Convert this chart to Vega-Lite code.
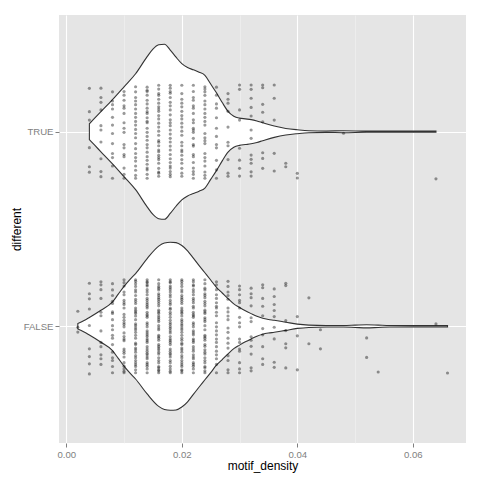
{
"$schema":"https://vega.github.io/schema/vega-lite/v6.json",
"autosize":{"type":"none"},
"padding":{"left":59,"top":15,"right":14,"bottom":37},
"width":407,"height":428,
"background":"#FFFFFF",
"config":{"view":{"fill":"#E5E5E5","stroke":null},"font":"Liberation Sans",
 "axis":{"domain":false,"labelColor":"#7F7F7F","labelFontSize":9.6,"tickColor":"#7F7F7F","tickSize":4,"tickWidth":1,"gridColor":"#FFFFFF","gridWidth":1.1,"titleFontWeight":"normal","titleFontSize":12,"titleColor":"#000000","labelPadding":2,"labelFont":"Liberation Sans","titleFont":"Liberation Sans"}},
"datasets":{
"vio":[
{"g":"T","x":0.004,"y":1.959,"y2":2.041},{"g":"T","x":0.005,"y":1.928,"y2":2.072},{"g":"T","x":0.006,"y":1.897,"y2":2.103},{"g":"T","x":0.008,"y":1.835,"y2":2.165},{"g":"T","x":0.010,"y":1.769,"y2":2.231},{"g":"T","x":0.012,"y":1.702,"y2":2.298},{"g":"T","x":0.014,"y":1.614,"y2":2.386},{"g":"T","x":0.015,"y":1.575,"y2":2.425},{"g":"T","x":0.016,"y":1.553,"y2":2.447},{"g":"T","x":0.017,"y":1.55,"y2":2.45},{"g":"T","x":0.018,"y":1.58,"y2":2.42},{"g":"T","x":0.019,"y":1.617,"y2":2.383},{"g":"T","x":0.020,"y":1.65,"y2":2.35},{"g":"T","x":0.021,"y":1.67,"y2":2.33},{"g":"T","x":0.022,"y":1.682,"y2":2.318},{"g":"T","x":0.023,"y":1.694,"y2":2.306},{"g":"T","x":0.024,"y":1.71,"y2":2.29},{"g":"T","x":0.025,"y":1.755,"y2":2.245},{"g":"T","x":0.026,"y":1.80,"y2":2.20},{"g":"T","x":0.027,"y":1.85,"y2":2.15},{"g":"T","x":0.028,"y":1.895,"y2":2.105},{"g":"T","x":0.029,"y":1.92,"y2":2.08},{"g":"T","x":0.030,"y":1.93,"y2":2.07},{"g":"T","x":0.031,"y":1.934,"y2":2.066},{"g":"T","x":0.032,"y":1.938,"y2":2.062},{"g":"T","x":0.033,"y":1.945,"y2":2.055},{"g":"T","x":0.034,"y":1.954,"y2":2.046},{"g":"T","x":0.036,"y":1.971,"y2":2.029},{"g":"T","x":0.038,"y":1.983,"y2":2.017},{"g":"T","x":0.040,"y":1.99,"y2":2.01},{"g":"T","x":0.042,"y":1.995,"y2":2.005},{"g":"T","x":0.045,"y":1.9965,"y2":2.0035},{"g":"T","x":0.048,"y":1.995,"y2":2.005},{"g":"T","x":0.052,"y":1.997,"y2":2.003},{"g":"T","x":0.058,"y":1.997,"y2":2.003},{"g":"T","x":0.064,"y":1.997,"y2":2.003},
{"g":"F","x":0.002,"y":0.986,"y2":1.014},{"g":"F","x":0.003,"y":0.972,"y2":1.028},{"g":"F","x":0.004,"y":0.955,"y2":1.045},{"g":"F","x":0.006,"y":0.918,"y2":1.082},{"g":"F","x":0.008,"y":0.875,"y2":1.125},{"g":"F","x":0.009,"y":0.835,"y2":1.165},{"g":"F","x":0.010,"y":0.795,"y2":1.205},{"g":"F","x":0.011,"y":0.76,"y2":1.24},{"g":"F","x":0.012,"y":0.729,"y2":1.271},{"g":"F","x":0.014,"y":0.652,"y2":1.348},{"g":"F","x":0.016,"y":0.588,"y2":1.412},{"g":"F","x":0.017,"y":0.572,"y2":1.428},{"g":"F","x":0.018,"y":0.568,"y2":1.432},{"g":"F","x":0.019,"y":0.57,"y2":1.43},{"g":"F","x":0.020,"y":0.585,"y2":1.415},{"g":"F","x":0.021,"y":0.612,"y2":1.388},{"g":"F","x":0.022,"y":0.65,"y2":1.35},{"g":"F","x":0.023,"y":0.688,"y2":1.312},{"g":"F","x":0.024,"y":0.725,"y2":1.275},{"g":"F","x":0.025,"y":0.762,"y2":1.238},{"g":"F","x":0.026,"y":0.80,"y2":1.20},{"g":"F","x":0.027,"y":0.829,"y2":1.171},{"g":"F","x":0.028,"y":0.858,"y2":1.142},{"g":"F","x":0.029,"y":0.885,"y2":1.115},{"g":"F","x":0.030,"y":0.903,"y2":1.097},{"g":"F","x":0.031,"y":0.92,"y2":1.08},{"g":"F","x":0.032,"y":0.935,"y2":1.065},{"g":"F","x":0.033,"y":0.949,"y2":1.051},{"g":"F","x":0.034,"y":0.959,"y2":1.041},{"g":"F","x":0.035,"y":0.965,"y2":1.035},{"g":"F","x":0.036,"y":0.969,"y2":1.031},{"g":"F","x":0.038,"y":0.979,"y2":1.021},{"g":"F","x":0.040,"y":0.989,"y2":1.011},{"g":"F","x":0.042,"y":0.994,"y2":1.006},{"g":"F","x":0.045,"y":0.996,"y2":1.004},{"g":"F","x":0.048,"y":0.996,"y2":1.004},{"g":"F","x":0.050,"y":0.994,"y2":1.006},{"g":"F","x":0.052,"y":0.992,"y2":1.008},{"g":"F","x":0.054,"y":0.994,"y2":1.006},{"g":"F","x":0.056,"y":0.996,"y2":1.004},{"g":"F","x":0.060,"y":0.9965,"y2":1.0035},{"g":"F","x":0.066,"y":0.9965,"y2":1.0035}
],
"pts":[
{"x":0.004,"y":2.223},{"x":0.004,"y":2.103},{"x":0.004,"y":2.060},{"x":0.004,"y":1.918},{"x":0.004,"y":1.820},{"x":0.004,"y":1.792},
{"x":0.006,"y":2.151},{"x":0.006,"y":1.769},{"x":0.006,"y":2.031},{"x":0.006,"y":1.947},{"x":0.006,"y":2.224},{"x":0.006,"y":1.861},{"x":0.006,"y":2.112},{"x":0.006,"y":1.795},{"x":0.006,"y":2.009},{"x":0.006,"y":2.176},
{"x":0.008,"y":2.139},{"x":0.008,"y":1.888},{"x":0.008,"y":2.205},{"x":0.008,"y":1.991},{"x":0.008,"y":1.824},{"x":0.008,"y":2.074},{"x":0.008,"y":2.158},{"x":0.008,"y":1.939},{"x":0.008,"y":2.034},{"x":0.008,"y":1.761},{"x":0.008,"y":2.117},{"x":0.008,"y":1.867},
{"x":0.010,"y":1.883},{"x":0.010,"y":2.133},{"x":0.010,"y":1.781},{"x":0.010,"y":2.046},{"x":0.010,"y":1.813},{"x":0.010,"y":2.207},{"x":0.010,"y":1.997},{"x":0.010,"y":2.094},{"x":0.010,"y":1.872},{"x":0.010,"y":2.162},{"x":0.010,"y":1.934},{"x":0.010,"y":2.018},{"x":0.010,"y":1.761},{"x":0.010,"y":2.121},{"x":0.010,"y":1.917},{"x":0.010,"y":2.188},
{"x":0.012,"y":2.012},{"x":0.012,"y":1.802},{"x":0.012,"y":2.176},{"x":0.012,"y":1.913},{"x":0.012,"y":2.094},{"x":0.012,"y":1.849},{"x":0.012,"y":2.231},{"x":0.012,"y":1.969},{"x":0.012,"y":2.053},{"x":0.012,"y":1.776},{"x":0.012,"y":2.139},{"x":0.012,"y":1.888},{"x":0.012,"y":2.205},{"x":0.012,"y":1.991},{"x":0.012,"y":1.824},{"x":0.012,"y":2.074},{"x":0.012,"y":2.158},{"x":0.012,"y":1.939},{"x":0.012,"y":2.034},{"x":0.012,"y":1.761},{"x":0.012,"y":2.117},{"x":0.012,"y":1.867},
{"x":0.014,"y":1.781},{"x":0.014,"y":2.046},{"x":0.014,"y":1.813},{"x":0.014,"y":2.207},{"x":0.014,"y":1.997},{"x":0.014,"y":2.094},{"x":0.014,"y":1.872},{"x":0.014,"y":2.162},{"x":0.014,"y":1.934},{"x":0.014,"y":2.018},{"x":0.014,"y":1.761},{"x":0.014,"y":2.121},{"x":0.014,"y":1.917},{"x":0.014,"y":2.188},{"x":0.014,"y":1.853},{"x":0.014,"y":2.072},{"x":0.014,"y":1.976},{"x":0.014,"y":2.229},{"x":0.014,"y":1.804},{"x":0.014,"y":2.143},{"x":0.014,"y":1.895},{"x":0.014,"y":2.054},{"x":0.014,"y":1.833},{"x":0.014,"y":2.213},{"x":0.014,"y":1.956},{"x":0.014,"y":2.103},
{"x":0.016,"y":2.117},{"x":0.016,"y":1.867},{"x":0.016,"y":2.219},{"x":0.016,"y":1.954},{"x":0.016,"y":2.187},{"x":0.016,"y":1.793},{"x":0.016,"y":2.003},{"x":0.016,"y":1.906},{"x":0.016,"y":2.128},{"x":0.016,"y":1.838},{"x":0.016,"y":2.066},{"x":0.016,"y":1.982},{"x":0.016,"y":2.239},{"x":0.016,"y":1.879},{"x":0.016,"y":2.083},{"x":0.016,"y":1.812},{"x":0.016,"y":2.147},{"x":0.016,"y":1.928},{"x":0.016,"y":2.024},{"x":0.016,"y":1.771},{"x":0.016,"y":2.196},{"x":0.016,"y":1.857},{"x":0.016,"y":2.105},{"x":0.016,"y":1.946},{"x":0.016,"y":2.167},{"x":0.016,"y":1.787},{"x":0.016,"y":2.044},{"x":0.016,"y":1.897},
{"x":0.018,"y":1.988},{"x":0.018,"y":2.198},{"x":0.018,"y":1.824},{"x":0.018,"y":2.087},{"x":0.018,"y":1.906},{"x":0.018,"y":2.151},{"x":0.018,"y":1.769},{"x":0.018,"y":2.031},{"x":0.018,"y":1.947},{"x":0.018,"y":2.224},{"x":0.018,"y":1.861},{"x":0.018,"y":2.112},{"x":0.018,"y":1.795},{"x":0.018,"y":2.009},{"x":0.018,"y":2.176},{"x":0.018,"y":1.926},{"x":0.018,"y":1.842},{"x":0.018,"y":2.061},{"x":0.018,"y":1.966},{"x":0.018,"y":2.239},{"x":0.018,"y":1.883},{"x":0.018,"y":2.133},{"x":0.018,"y":1.781},{"x":0.018,"y":2.046},{"x":0.018,"y":1.813},{"x":0.018,"y":2.207},
{"x":0.020,"y":2.003},{"x":0.020,"y":1.906},{"x":0.020,"y":2.128},{"x":0.020,"y":1.838},{"x":0.020,"y":2.066},{"x":0.020,"y":1.982},{"x":0.020,"y":2.239},{"x":0.020,"y":1.879},{"x":0.020,"y":2.083},{"x":0.020,"y":1.812},{"x":0.020,"y":2.147},{"x":0.020,"y":1.928},{"x":0.020,"y":2.024},{"x":0.020,"y":1.771},{"x":0.020,"y":2.196},{"x":0.020,"y":1.857},{"x":0.020,"y":2.105},{"x":0.020,"y":1.946},{"x":0.020,"y":2.167},{"x":0.020,"y":1.787},{"x":0.020,"y":2.044},{"x":0.020,"y":1.897},
{"x":0.022,"y":1.795},{"x":0.022,"y":2.009},{"x":0.022,"y":2.176},{"x":0.022,"y":1.926},{"x":0.022,"y":1.842},{"x":0.022,"y":2.061},{"x":0.022,"y":1.966},{"x":0.022,"y":2.239},{"x":0.022,"y":1.883},{"x":0.022,"y":2.133},{"x":0.022,"y":1.781},{"x":0.022,"y":2.046},{"x":0.022,"y":1.813},{"x":0.022,"y":2.207},{"x":0.022,"y":1.997},{"x":0.022,"y":2.094},{"x":0.022,"y":1.872},{"x":0.022,"y":2.162},{"x":0.022,"y":1.934},{"x":0.022,"y":2.018},{"x":0.022,"y":1.761},{"x":0.022,"y":2.121},
{"x":0.024,"y":2.094},{"x":0.024,"y":1.849},{"x":0.024,"y":2.231},{"x":0.024,"y":1.969},{"x":0.024,"y":2.053},{"x":0.024,"y":1.776},{"x":0.024,"y":2.139},{"x":0.024,"y":1.888},{"x":0.024,"y":2.205},{"x":0.024,"y":1.991},{"x":0.024,"y":1.824},{"x":0.024,"y":2.074},{"x":0.024,"y":2.158},{"x":0.024,"y":1.939},{"x":0.024,"y":2.034},{"x":0.024,"y":1.761},{"x":0.024,"y":2.117},{"x":0.024,"y":1.867},{"x":0.024,"y":2.219},{"x":0.024,"y":1.954},{"x":0.024,"y":2.187},{"x":0.024,"y":1.793},
{"x":0.026,"y":1.934},{"x":0.026,"y":2.018},{"x":0.026,"y":1.761},{"x":0.026,"y":2.121},{"x":0.026,"y":1.917},{"x":0.026,"y":2.188},{"x":0.026,"y":1.853},{"x":0.026,"y":2.072},{"x":0.026,"y":1.976},{"x":0.026,"y":2.229},{"x":0.026,"y":1.804},{"x":0.026,"y":2.143},
{"x":0.028,"y":2.147},{"x":0.028,"y":1.928},{"x":0.028,"y":2.024},{"x":0.028,"y":1.771},{"x":0.028,"y":2.196},{"x":0.028,"y":1.857},{"x":0.028,"y":2.105},{"x":0.028,"y":1.946},{"x":0.028,"y":2.167},{"x":0.028,"y":1.787},
{"x":0.030,"y":2.240},{"x":0.030,"y":2.218},{"x":0.030,"y":2.112},{"x":0.030,"y":2.060},{"x":0.030,"y":1.915},{"x":0.030,"y":1.854},{"x":0.030,"y":1.812},{"x":0.030,"y":1.772},
{"x":0.032,"y":2.240},{"x":0.032,"y":2.218},{"x":0.032,"y":2.172},{"x":0.032,"y":2.125},{"x":0.032,"y":2.081},{"x":0.032,"y":2.009},{"x":0.032,"y":1.966},{"x":0.032,"y":1.880},{"x":0.032,"y":1.858},{"x":0.032,"y":1.838},{"x":0.032,"y":1.794},{"x":0.032,"y":1.772},
{"x":0.034,"y":2.240},{"x":0.034,"y":2.226},{"x":0.034,"y":2.141},{"x":0.034,"y":2.100},{"x":0.034,"y":2.051},{"x":0.034,"y":1.892},{"x":0.034,"y":1.863},{"x":0.034,"y":1.812},
{"x":0.036,"y":2.240},{"x":0.036,"y":2.172},{"x":0.036,"y":2.060},{"x":0.036,"y":1.889},{"x":0.036,"y":1.798},
{"x":0.038,"y":1.838},{"x":0.038,"y":1.820},{"x":0.040,"y":1.786},{"x":0.040,"y":1.762},{"x":0.048,"y":1.992},{"x":0.064,"y":1.758},
{"x":0.002,"y":1.077},{"x":0.002,"y":0.995},{"x":0.002,"y":0.970},
{"x":0.004,"y":1.221},{"x":0.004,"y":1.167},{"x":0.004,"y":1.141},{"x":0.004,"y":1.089},{"x":0.004,"y":1.004},{"x":0.004,"y":0.884},{"x":0.004,"y":0.844},{"x":0.004,"y":0.807},{"x":0.004,"y":0.755},
{"x":0.006,"y":0.917},{"x":0.006,"y":1.188},{"x":0.006,"y":0.853},{"x":0.006,"y":1.072},{"x":0.006,"y":0.976},{"x":0.006,"y":1.229},{"x":0.006,"y":0.804},{"x":0.006,"y":1.143},{"x":0.006,"y":0.895},{"x":0.006,"y":1.054},{"x":0.006,"y":0.833},{"x":0.006,"y":1.213},
{"x":0.008,"y":0.824},{"x":0.008,"y":1.074},{"x":0.008,"y":1.158},{"x":0.008,"y":0.939},{"x":0.008,"y":1.034},{"x":0.008,"y":0.761},{"x":0.008,"y":1.117},{"x":0.008,"y":0.867},{"x":0.008,"y":1.219},{"x":0.008,"y":0.954},{"x":0.008,"y":1.187},{"x":0.008,"y":0.793},{"x":0.008,"y":1.003},{"x":0.008,"y":0.906},{"x":0.008,"y":1.128},{"x":0.008,"y":0.838},{"x":0.008,"y":1.066},{"x":0.008,"y":0.982},
{"x":0.010,"y":0.769},{"x":0.010,"y":1.031},{"x":0.010,"y":0.947},{"x":0.010,"y":1.224},{"x":0.010,"y":0.861},{"x":0.010,"y":1.112},{"x":0.010,"y":0.795},{"x":0.010,"y":1.009},{"x":0.010,"y":1.176},{"x":0.010,"y":0.926},{"x":0.010,"y":0.842},{"x":0.010,"y":1.061},{"x":0.010,"y":0.966},{"x":0.010,"y":1.239},{"x":0.010,"y":0.883},{"x":0.010,"y":1.133},{"x":0.010,"y":0.781},{"x":0.010,"y":1.046},{"x":0.010,"y":0.813},{"x":0.010,"y":1.207},{"x":0.010,"y":0.997},{"x":0.010,"y":1.094},{"x":0.010,"y":0.872},{"x":0.010,"y":1.162},{"x":0.010,"y":0.934},{"x":0.010,"y":1.018},{"x":0.010,"y":0.761},{"x":0.010,"y":1.121},
{"x":0.012,"y":1.012},{"x":0.012,"y":0.802},{"x":0.012,"y":1.176},{"x":0.012,"y":0.913},{"x":0.012,"y":1.094},{"x":0.012,"y":0.849},{"x":0.012,"y":1.231},{"x":0.012,"y":0.969},{"x":0.012,"y":1.053},{"x":0.012,"y":0.776},{"x":0.012,"y":1.139},{"x":0.012,"y":0.888},{"x":0.012,"y":1.205},{"x":0.012,"y":0.991},{"x":0.012,"y":0.824},{"x":0.012,"y":1.074},{"x":0.012,"y":1.158},{"x":0.012,"y":0.939},{"x":0.012,"y":1.034},{"x":0.012,"y":0.761},{"x":0.012,"y":1.117},{"x":0.012,"y":0.867},{"x":0.012,"y":1.219},{"x":0.012,"y":0.954},{"x":0.012,"y":1.187},{"x":0.012,"y":0.793},{"x":0.012,"y":1.003},{"x":0.012,"y":0.906},{"x":0.012,"y":1.128},{"x":0.012,"y":0.838},{"x":0.012,"y":1.066},{"x":0.012,"y":0.982},{"x":0.012,"y":1.239},{"x":0.012,"y":0.879},{"x":0.012,"y":1.083},{"x":0.012,"y":0.812},
{"x":0.014,"y":0.947},{"x":0.014,"y":1.224},{"x":0.014,"y":0.861},{"x":0.014,"y":1.112},{"x":0.014,"y":0.795},{"x":0.014,"y":1.009},{"x":0.014,"y":1.176},{"x":0.014,"y":0.926},{"x":0.014,"y":0.842},{"x":0.014,"y":1.061},{"x":0.014,"y":0.966},{"x":0.014,"y":1.239},{"x":0.014,"y":0.883},{"x":0.014,"y":1.133},{"x":0.014,"y":0.781},{"x":0.014,"y":1.046},{"x":0.014,"y":0.813},{"x":0.014,"y":1.207},{"x":0.014,"y":0.997},{"x":0.014,"y":1.094},{"x":0.014,"y":0.872},{"x":0.014,"y":1.162},{"x":0.014,"y":0.934},{"x":0.014,"y":1.018},{"x":0.014,"y":0.761},{"x":0.014,"y":1.121},{"x":0.014,"y":0.917},{"x":0.014,"y":1.188},{"x":0.014,"y":0.853},{"x":0.014,"y":1.072},{"x":0.014,"y":0.976},{"x":0.014,"y":1.229},{"x":0.014,"y":0.804},{"x":0.014,"y":1.143},{"x":0.014,"y":0.895},{"x":0.014,"y":1.054},{"x":0.014,"y":0.833},{"x":0.014,"y":1.213},{"x":0.014,"y":0.956},{"x":0.014,"y":1.103},
{"x":0.016,"y":1.053},{"x":0.016,"y":0.776},{"x":0.016,"y":1.139},{"x":0.016,"y":0.888},{"x":0.016,"y":1.205},{"x":0.016,"y":0.991},{"x":0.016,"y":0.824},{"x":0.016,"y":1.074},{"x":0.016,"y":1.158},{"x":0.016,"y":0.939},{"x":0.016,"y":1.034},{"x":0.016,"y":0.761},{"x":0.016,"y":1.117},{"x":0.016,"y":0.867},{"x":0.016,"y":1.219},{"x":0.016,"y":0.954},{"x":0.016,"y":1.187},{"x":0.016,"y":0.793},{"x":0.016,"y":1.003},{"x":0.016,"y":0.906},{"x":0.016,"y":1.128},{"x":0.016,"y":0.838},{"x":0.016,"y":1.066},{"x":0.016,"y":0.982},{"x":0.016,"y":1.239},{"x":0.016,"y":0.879},{"x":0.016,"y":1.083},{"x":0.016,"y":0.812},{"x":0.016,"y":1.147},{"x":0.016,"y":0.928},{"x":0.016,"y":1.024},{"x":0.016,"y":0.771},{"x":0.016,"y":1.196},{"x":0.016,"y":0.857},{"x":0.016,"y":1.105},{"x":0.016,"y":0.946},{"x":0.016,"y":1.167},{"x":0.016,"y":0.787},{"x":0.016,"y":1.044},{"x":0.016,"y":0.897},
{"x":0.018,"y":0.988},{"x":0.018,"y":1.198},{"x":0.018,"y":0.824},{"x":0.018,"y":1.087},{"x":0.018,"y":0.906},{"x":0.018,"y":1.151},{"x":0.018,"y":0.769},{"x":0.018,"y":1.031},{"x":0.018,"y":0.947},{"x":0.018,"y":1.224},{"x":0.018,"y":0.861},{"x":0.018,"y":1.112},{"x":0.018,"y":0.795},{"x":0.018,"y":1.009},{"x":0.018,"y":1.176},{"x":0.018,"y":0.926},{"x":0.018,"y":0.842},{"x":0.018,"y":1.061},{"x":0.018,"y":0.966},{"x":0.018,"y":1.239},{"x":0.018,"y":0.883},{"x":0.018,"y":1.133},{"x":0.018,"y":0.781},{"x":0.018,"y":1.046},{"x":0.018,"y":0.813},{"x":0.018,"y":1.207},{"x":0.018,"y":0.997},{"x":0.018,"y":1.094},{"x":0.018,"y":0.872},{"x":0.018,"y":1.162},{"x":0.018,"y":0.934},{"x":0.018,"y":1.018},{"x":0.018,"y":0.761},{"x":0.018,"y":1.121},{"x":0.018,"y":0.917},{"x":0.018,"y":1.188},{"x":0.018,"y":0.853},{"x":0.018,"y":1.072},{"x":0.018,"y":0.976},{"x":0.018,"y":1.229},
{"x":0.020,"y":1.012},{"x":0.020,"y":0.802},{"x":0.020,"y":1.176},{"x":0.020,"y":0.913},{"x":0.020,"y":1.094},{"x":0.020,"y":0.849},{"x":0.020,"y":1.231},{"x":0.020,"y":0.969},{"x":0.020,"y":1.053},{"x":0.020,"y":0.776},{"x":0.020,"y":1.139},{"x":0.020,"y":0.888},{"x":0.020,"y":1.205},{"x":0.020,"y":0.991},{"x":0.020,"y":0.824},{"x":0.020,"y":1.074},{"x":0.020,"y":1.158},{"x":0.020,"y":0.939},{"x":0.020,"y":1.034},{"x":0.020,"y":0.761},{"x":0.020,"y":1.117},{"x":0.020,"y":0.867},{"x":0.020,"y":1.219},{"x":0.020,"y":0.954},{"x":0.020,"y":1.187},{"x":0.020,"y":0.793},{"x":0.020,"y":1.003},{"x":0.020,"y":0.906},{"x":0.020,"y":1.128},{"x":0.020,"y":0.838},{"x":0.020,"y":1.066},{"x":0.020,"y":0.982},{"x":0.020,"y":1.239},{"x":0.020,"y":0.879},{"x":0.020,"y":1.083},{"x":0.020,"y":0.812},{"x":0.020,"y":1.147},{"x":0.020,"y":0.928},{"x":0.020,"y":1.024},{"x":0.020,"y":0.771},
{"x":0.022,"y":0.795},{"x":0.022,"y":1.009},{"x":0.022,"y":1.176},{"x":0.022,"y":0.926},{"x":0.022,"y":0.842},{"x":0.022,"y":1.061},{"x":0.022,"y":0.966},{"x":0.022,"y":1.239},{"x":0.022,"y":0.883},{"x":0.022,"y":1.133},{"x":0.022,"y":0.781},{"x":0.022,"y":1.046},{"x":0.022,"y":0.813},{"x":0.022,"y":1.207},{"x":0.022,"y":0.997},{"x":0.022,"y":1.094},{"x":0.022,"y":0.872},{"x":0.022,"y":1.162},{"x":0.022,"y":0.934},{"x":0.022,"y":1.018},{"x":0.022,"y":0.761},{"x":0.022,"y":1.121},{"x":0.022,"y":0.917},{"x":0.022,"y":1.188},{"x":0.022,"y":0.853},{"x":0.022,"y":1.072},{"x":0.022,"y":0.976},{"x":0.022,"y":1.229},{"x":0.022,"y":0.804},{"x":0.022,"y":1.143},{"x":0.022,"y":0.895},{"x":0.022,"y":1.054},{"x":0.022,"y":0.833},{"x":0.022,"y":1.213},{"x":0.022,"y":0.956},{"x":0.022,"y":1.103},
{"x":0.024,"y":0.824},{"x":0.024,"y":1.074},{"x":0.024,"y":1.158},{"x":0.024,"y":0.939},{"x":0.024,"y":1.034},{"x":0.024,"y":0.761},{"x":0.024,"y":1.117},{"x":0.024,"y":0.867},{"x":0.024,"y":1.219},{"x":0.024,"y":0.954},{"x":0.024,"y":1.187},{"x":0.024,"y":0.793},{"x":0.024,"y":1.003},{"x":0.024,"y":0.906},{"x":0.024,"y":1.128},{"x":0.024,"y":0.838},{"x":0.024,"y":1.066},{"x":0.024,"y":0.982},{"x":0.024,"y":1.239},{"x":0.024,"y":0.879},{"x":0.024,"y":1.083},{"x":0.024,"y":0.812},{"x":0.024,"y":1.147},{"x":0.024,"y":0.928},{"x":0.024,"y":1.024},{"x":0.024,"y":0.771},{"x":0.024,"y":1.196},{"x":0.024,"y":0.857},{"x":0.024,"y":1.105},{"x":0.024,"y":0.946},{"x":0.024,"y":1.167},{"x":0.024,"y":0.787},{"x":0.024,"y":1.044},{"x":0.024,"y":0.897},
{"x":0.026,"y":0.997},{"x":0.026,"y":1.094},{"x":0.026,"y":0.872},{"x":0.026,"y":1.162},{"x":0.026,"y":0.934},{"x":0.026,"y":1.018},{"x":0.026,"y":0.761},{"x":0.026,"y":1.121},{"x":0.026,"y":0.917},{"x":0.026,"y":1.188},{"x":0.026,"y":0.853},{"x":0.026,"y":1.072},{"x":0.026,"y":0.976},{"x":0.026,"y":1.229},{"x":0.026,"y":0.804},{"x":0.026,"y":1.143},{"x":0.026,"y":0.895},{"x":0.026,"y":1.054},{"x":0.026,"y":0.833},{"x":0.026,"y":1.213},{"x":0.026,"y":0.956},{"x":0.026,"y":1.103},
{"x":0.028,"y":1.176},{"x":0.028,"y":0.913},{"x":0.028,"y":1.094},{"x":0.028,"y":0.849},{"x":0.028,"y":1.231},{"x":0.028,"y":0.969},{"x":0.028,"y":1.053},{"x":0.028,"y":0.776},{"x":0.028,"y":1.139},{"x":0.028,"y":0.888},{"x":0.028,"y":1.205},{"x":0.028,"y":0.991},{"x":0.028,"y":0.824},{"x":0.028,"y":1.074},{"x":0.028,"y":1.158},{"x":0.028,"y":0.939},{"x":0.028,"y":1.034},{"x":0.028,"y":0.761},
{"x":0.030,"y":0.883},{"x":0.030,"y":1.133},{"x":0.030,"y":0.781},{"x":0.030,"y":1.046},{"x":0.030,"y":0.813},{"x":0.030,"y":1.207},{"x":0.030,"y":0.997},{"x":0.030,"y":1.094},{"x":0.030,"y":0.872},{"x":0.030,"y":1.162},{"x":0.030,"y":0.934},{"x":0.030,"y":1.018},{"x":0.030,"y":0.761},{"x":0.030,"y":1.121},{"x":0.030,"y":0.917},{"x":0.030,"y":1.188},
{"x":0.032,"y":1.147},{"x":0.032,"y":0.928},{"x":0.032,"y":1.024},{"x":0.032,"y":0.771},{"x":0.032,"y":1.196},{"x":0.032,"y":0.857},{"x":0.032,"y":1.105},{"x":0.032,"y":0.946},{"x":0.032,"y":1.167},{"x":0.032,"y":0.787},{"x":0.032,"y":1.044},{"x":0.032,"y":0.897},
{"x":0.034,"y":0.804},{"x":0.034,"y":1.143},{"x":0.034,"y":0.895},{"x":0.034,"y":1.054},{"x":0.034,"y":0.833},{"x":0.034,"y":1.213},{"x":0.034,"y":0.956},{"x":0.034,"y":1.103},{"x":0.034,"y":0.988},{"x":0.034,"y":1.198},
{"x":0.036,"y":1.192},{"x":0.036,"y":1.153},{"x":0.036,"y":1.112},{"x":0.036,"y":1.081},{"x":0.036,"y":1.050},{"x":0.036,"y":0.995},{"x":0.036,"y":0.935},{"x":0.036,"y":0.815},{"x":0.036,"y":0.789},
{"x":0.038,"y":1.221},{"x":0.038,"y":1.209},{"x":0.038,"y":1.029},{"x":0.038,"y":0.978},{"x":0.038,"y":0.910},{"x":0.038,"y":0.889},{"x":0.038,"y":0.786},
{"x":0.040,"y":1.050},{"x":0.040,"y":0.951},{"x":0.040,"y":0.776},
{"x":0.042,"y":1.146},{"x":0.042,"y":0.910},{"x":0.044,"y":0.982},{"x":0.044,"y":0.884},{"x":0.052,"y":0.940},{"x":0.052,"y":0.840},{"x":0.054,"y":0.765},{"x":0.064,"y":1.012},{"x":0.066,"y":0.760}
]},
"encoding":{
 "x":{"field":"x","type":"quantitative","title":"motif_density",
  "scale":{"domain":[-0.00126,0.0692],"nice":false,"zero":false},
  "axis":{"values":[0,0.01,0.02,0.03,0.04,0.05,0.06],
   "labelExpr":"round(datum.value*100) % 2 == 0 ? format(datum.value, '.2f') : ''",
   "gridColor":{"condition":{"test":"round(datum.value*100) % 2 == 0","value":"#FFFFFF"},"value":"#F2F2F2"},
   "gridWidth":{"condition":{"test":"round(datum.value*100) % 2 == 0","value":1.1},"value":0.6},
   "tickOpacity":{"condition":{"test":"round(datum.value*100) % 2 == 0","value":1},"value":0},
   "titleY":22,"titleBaseline":"middle"}},
 "y":{"field":"y","type":"quantitative","title":"different",
  "scale":{"domain":[0.4,2.6],"nice":false,"zero":false},
  "axis":{"values":[1,2],"labelExpr":"datum.value == 2 ? 'TRUE' : 'FALSE'","titleX":-43,"titleY":214,"titleBaseline":"middle","titleAngle":-90,"titleAlign":"center"}}
},
"layer":[
 {"data":{"name":"vio"},"mark":{"type":"area","fill":"#FFFFFF","stroke":"#333333","strokeWidth":1.1,"interpolate":"monotone"},
  "encoding":{"y2":{"field":"y2"},"detail":{"field":"g","type":"nominal"}}},
 {"data":{"name":"pts"},"mark":{"type":"circle","size":10,"color":"#000000","opacity":0.4}}
]
}
